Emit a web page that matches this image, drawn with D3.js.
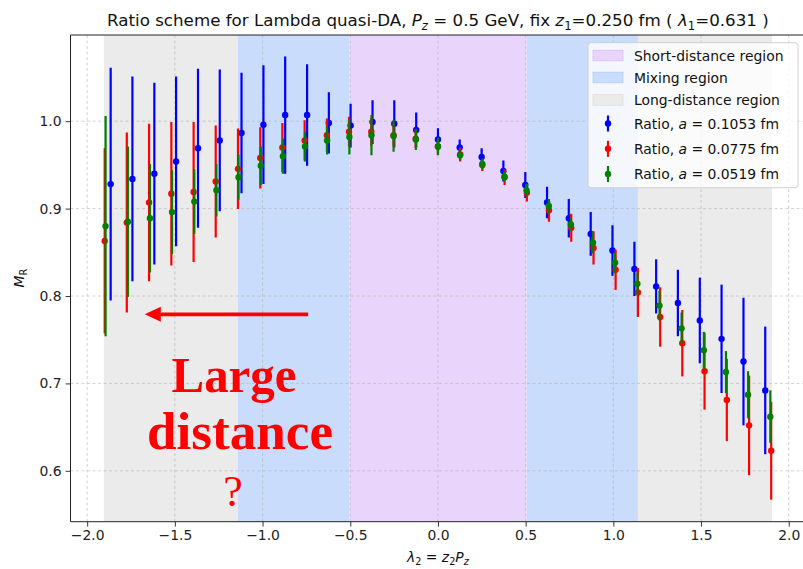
<!DOCTYPE html>
<html>
<head>
<meta charset="utf-8">
<script src="https://cdn.jsdelivr.net/npm/d3@7/dist/d3.min.js"></script>
<style>
  html, body { margin: 0; padding: 0; background: #fff; }
  svg { display: block; font-family: "DejaVu Sans", sans-serif; }
</style>
</head>
<body>
<svg id="chart" width="803" height="569"></svg>
<script>
// ---- data ----------------------------------------------------------------
const lambdaA1053 = [-1.866, -1.742, -1.617, -1.493, -1.368, -1.244, -1.120, -0.995, -0.871, -0.746, -0.622, -0.498, -0.373, -0.249, -0.124, 0.000,
                      0.124, 0.249, 0.373, 0.498, 0.622, 0.746, 0.871, 0.995, 1.120, 1.244, 1.368, 1.493, 1.617, 1.742, 1.866];
const ratioA1053 = [0.928, 0.934, 0.940, 0.954, 0.969, 0.978, 0.9865, 0.996, 1.007, 1.007, 0.998, 0.995, 0.999, 0.997, 0.990, 0.979,
                    0.970, 0.959, 0.943, 0.927, 0.907, 0.889, 0.871, 0.852, 0.831, 0.811, 0.792, 0.772, 0.751, 0.725, 0.692];
const errA1053 = [0.133, 0.117, 0.104, 0.097, 0.091, 0.081, 0.069, 0.068, 0.067, 0.058, 0.035, 0.025, 0.025, 0.027, 0.020, 0.013,
                  0.009, 0.010, 0.012, 0.015, 0.018, 0.022, 0.025, 0.029, 0.031, 0.031, 0.038, 0.049, 0.062, 0.073, 0.073];

const lambdaA0775 = [-1.900, -1.774, -1.647, -1.520, -1.393, -1.267, -1.140, -1.013, -0.887, -0.760, -0.633, -0.507, -0.380, -0.253, -0.127, 0.000,
                      0.127, 0.253, 0.380, 0.507, 0.633, 0.760, 0.887, 1.013, 1.140, 1.267, 1.393, 1.520, 1.647, 1.774, 1.900];
const ratioA0775 = [0.863, 0.884, 0.907, 0.917, 0.919, 0.931, 0.9455, 0.958, 0.970, 0.978, 0.984, 0.988, 0.988, 0.984, 0.980, 0.971,
                    0.962, 0.950, 0.936, 0.918, 0.898, 0.878, 0.855, 0.830, 0.804, 0.776, 0.746, 0.714, 0.681, 0.652, 0.623];
const errA0775 = [0.106, 0.103, 0.090, 0.082, 0.080, 0.064, 0.046, 0.035, 0.028, 0.023, 0.019, 0.017, 0.016, 0.013, 0.011, 0.009,
                  0.008, 0.007, 0.009, 0.010, 0.013, 0.016, 0.019, 0.023, 0.028, 0.034, 0.038, 0.044, 0.047, 0.057, 0.056];

const lambdaA0519 = [-1.895, -1.768, -1.642, -1.516, -1.389, -1.263, -1.137, -1.010, -0.884, -0.758, -0.632, -0.505, -0.379, -0.253, -0.126, 0.000,
                      0.126, 0.253, 0.379, 0.505, 0.632, 0.758, 0.884, 1.010, 1.137, 1.263, 1.389, 1.516, 1.642, 1.768, 1.895];
const ratioA0519 = [0.880, 0.885, 0.889, 0.896, 0.908, 0.921, 0.936, 0.949, 0.960, 0.971, 0.978, 0.982, 0.984, 0.983, 0.979, 0.971,
                    0.961, 0.951, 0.9365, 0.921, 0.903, 0.882, 0.861, 0.838, 0.814, 0.789, 0.763, 0.738, 0.713, 0.687, 0.662];
const errA0519 = [0.126, 0.086, 0.062, 0.048, 0.037, 0.030, 0.026, 0.022, 0.020, 0.017, 0.016, 0.020, 0.023, 0.018, 0.012, 0.010,
                  0.006, 0.006, 0.0055, 0.007, 0.008, 0.008, 0.012, 0.012, 0.013, 0.017, 0.018, 0.021, 0.024, 0.027, 0.030];

// region boundaries in lambda
const shortRegion = [[-0.505, 0.505]];
const mixingRegion = [[-1.14, -0.505], [0.505, 1.14]];
const longRegion = [[-1.905, -1.14], [1.14, 1.905]];

const xTicks = [-2.0, -1.5, -1.0, -0.5, 0.0, 0.5, 1.0, 1.5, 2.0];
const yTicks = [0.6, 0.7, 0.8, 0.9, 1.0];

const series = [
  { a: "0.1053", color: "#0000ff", x: lambdaA1053, y: ratioA1053, e: errA1053 },
  { a: "0.0775", color: "#ff0000", x: lambdaA0775, y: ratioA0775, e: errA0775 },
  { a: "0.0519", color: "#008000", x: lambdaA0519, y: ratioA0519, e: errA0519 }
];

// ---- layout --------------------------------------------------------------
const svg = d3.select("#chart");
const plot = { left: 70.5, top: 35, right: 805.4, bottom: 521.7 };

const x = d3.scaleLinear().domain([-2.095, 2.095]).range([plot.left, plot.right]);
const y = d3.scaleLinear().domain([0.5418, 1.0986]).range([plot.bottom, plot.top]);

svg.append("clipPath").attr("id", "clip")
  .append("rect").attr("x", plot.left).attr("y", plot.top)
  .attr("width", plot.right - plot.left).attr("height", plot.bottom - plot.top);

const body = svg.append("g").attr("clip-path", "url(#clip)");

// shaded regions
const regionColors = { short: "#e9d5fb", mixing: "#c9dcfb", long: "#ebebeb" };
function spans(list, color) {
  body.append("g").selectAll("rect").data(list).join("rect")
    .attr("x", d => x(d[0])).attr("width", d => x(d[1]) - x(d[0]))
    .attr("y", plot.top).attr("height", plot.bottom - plot.top)
    .attr("fill", color);
}
spans(longRegion, regionColors.long);
spans(mixingRegion, regionColors.mixing);
spans(shortRegion, regionColors.short);

// grid
const grid = body.append("g").attr("stroke", "#b0b0b0").attr("stroke-width", 0.8)
  .attr("stroke-dasharray", "3,2.5").attr("opacity", 0.7);
grid.selectAll("line.gx").data(xTicks).join("line").attr("class", "gx")
  .attr("x1", d => x(d)).attr("x2", d => x(d)).attr("y1", plot.top).attr("y2", plot.bottom);
grid.selectAll("line.gy").data(yTicks).join("line").attr("class", "gy")
  .attr("y1", d => y(d)).attr("y2", d => y(d)).attr("x1", plot.left).attr("x2", plot.right);

// error bars
series.forEach(s => {
  const pts = s.x.map((v, i) => ({ x: v, y: s.y[i], e: s.e[i] }));
  const g = body.append("g");
  g.selectAll("line").data(pts).join("line")
    .attr("x1", d => x(d.x)).attr("x2", d => x(d.x))
    .attr("y1", d => y(d.y - d.e)).attr("y2", d => y(d.y + d.e))
    .attr("stroke", s.color).attr("stroke-width", 2.2);
  g.selectAll("circle").data(pts).join("circle")
    .attr("cx", d => x(d.x)).attr("cy", d => y(d.y)).attr("r", 3.2)
    .attr("fill", s.color);
});

// axes
const xAxis = d3.axisBottom(x).tickValues(xTicks).tickFormat(d => d3.format(".1f")(d).replace("-", "\u2212")).tickSize(4.9).tickPadding(4);
const yAxis = d3.axisLeft(y).tickValues(yTicks).tickFormat(d3.format(".1f")).tickSize(4.9).tickPadding(4);

const gx = svg.append("g").attr("transform", `translate(0,${plot.bottom})`).call(xAxis);
const gy = svg.append("g").attr("transform", `translate(${plot.left},0)`).call(yAxis);
[gx, gy].forEach(g => {
  g.select(".domain").remove();
  g.selectAll(".tick line").attr("stroke", "#222").attr("stroke-width", 0.9);
  g.selectAll(".tick text").attr("font-size", 13.9).attr("fill", "#222")
    .attr("font-family", "DejaVu Sans, sans-serif");
});

// frame (right edge lies off the canvas)
svg.append("path")
  .attr("d", `M${plot.right},${plot.top}H${plot.left}V${plot.bottom}H${plot.right}`)
  .attr("fill", "none").attr("stroke", "#222").attr("stroke-width", 1);

// ---- text helpers --------------------------------------------------------
// Writes runs of plain / italic / subscript text; each run sets its own size
// and moves the baseline relative to the previous run.
function mathText(sel, parts, size) {
  let shift = 0;
  parts.forEach(p => {
    const target = p.sub ? size * 0.22 : 0;
    const t = sel.append("tspan").text(p.t)
      .attr("font-size", p.sub ? size * 0.7 : size);
    if (target !== shift) t.attr("dy", target - shift);
    shift = target;
    if (p.it) t.attr("font-style", "italic");
  });
}

// title
const title = svg.append("text").attr("x", 437.9).attr("y", 26).attr("text-anchor", "middle")
  .attr("font-size", 16.7).attr("fill", "#111");
mathText(title, [
  { t: "Ratio scheme for Lambda quasi-DA, " },
  { t: "P", it: true }, { t: "z", it: true, sub: true },
  { t: " = 0.5 GeV, fix " },
  { t: "z", it: true }, { t: "1", sub: true },
  { t: "=0.250 fm ( " },
  { t: "\u03BB", it: true }, { t: "1", sub: true },
  { t: "=0.631 )" }
], 16.7);

// x label
const xl = svg.append("text").attr("x", 437.9).attr("y", 562).attr("text-anchor", "middle")
  .attr("font-size", 13.9).attr("fill", "#111");
mathText(xl, [
  { t: "\u03BB", it: true }, { t: "2", sub: true },
  { t: " = " },
  { t: "z", it: true }, { t: "2", sub: true },
  { t: "P", it: true }, { t: "z", it: true, sub: true }
], 13.9);

// y label
const yl = svg.append("text").attr("transform", "translate(24,278) rotate(-90)")
  .attr("text-anchor", "middle").attr("font-size", 13.9).attr("fill", "#111");
mathText(yl, [{ t: "M", it: true }, { t: "R", sub: true }], 13.9);

// ---- legend --------------------------------------------------------------
const lg = svg.append("g");
lg.append("rect").attr("x", 588).attr("y", 42.7).attr("width", 210).attr("height", 145)
  .attr("rx", 3).attr("fill", "#fff").attr("fill-opacity", 0.8)
  .attr("stroke", "#d0d0d0").attr("stroke-width", 1);

const patchItems = [
  { label: "Short-distance region", color: regionColors.short, edge: "#d9bff5", cy: 55.5 },
  { label: "Mixing region", color: regionColors.mixing, edge: "#b5cdf6", cy: 77.5 },
  { label: "Long-distance region", color: regionColors.long, edge: "#dedede", cy: 100 }
];
patchItems.forEach(p => {
  lg.append("rect").attr("x", 593).attr("y", p.cy - 5.3).attr("width", 30).attr("height", 10.6)
    .attr("fill", p.color).attr("stroke", p.edge).attr("stroke-width", 0.8);
  lg.append("text").attr("x", 634).attr("y", p.cy + 5).attr("font-size", 13.9).attr("fill", "#111").text(p.label);
});
const markerRows = [123.5, 148.8, 174];
series.forEach((s, i) => {
  const cy = markerRows[i];
  lg.append("line").attr("x1", 608).attr("x2", 608).attr("y1", cy - 8).attr("y2", cy + 8)
    .attr("stroke", s.color).attr("stroke-width", 2.2);
  lg.append("circle").attr("cx", 608).attr("cy", cy).attr("r", 3.2).attr("fill", s.color);
  const t = lg.append("text").attr("x", 634).attr("y", cy + 5).attr("font-size", 13.9).attr("fill", "#111");
  mathText(t, [{ t: "Ratio, " }, { t: "a", it: true }, { t: " = " + s.a + " fm" }], 13.9);
});

// ---- annotation ----------------------------------------------------------
const arrowY = y(0.779);
svg.append("line").attr("x1", x(-0.74)).attr("x2", x(-1.58)).attr("y1", arrowY).attr("y2", arrowY)
  .attr("stroke", "#ff0000").attr("stroke-width", 3.6);
svg.append("path")
  .attr("d", `M${x(-1.672)},${arrowY}L${x(-1.58)},${arrowY - 7.5}L${x(-1.58)},${arrowY + 7.5}Z`)
  .attr("fill", "#ff0000");

const note = svg.append("g").attr("fill", "#ff0000").attr("font-family", "Liberation Serif, Times New Roman, serif");
note.append("text").attr("x", 234).attr("y", 391.5).attr("text-anchor", "middle")
  .attr("font-size", 51).attr("font-weight", "bold")
  .attr("textLength", 125).attr("lengthAdjust", "spacingAndGlyphs").text("Large");
note.append("text").attr("x", 240).attr("y", 449).attr("text-anchor", "middle")
  .attr("font-size", 52).attr("font-weight", "bold")
  .attr("textLength", 186).attr("lengthAdjust", "spacingAndGlyphs").text("distance");
note.append("text").attr("x", 233).attr("y", 506).attr("text-anchor", "middle")
  .attr("font-size", 44).text("?");
</script>
</body>
</html>
